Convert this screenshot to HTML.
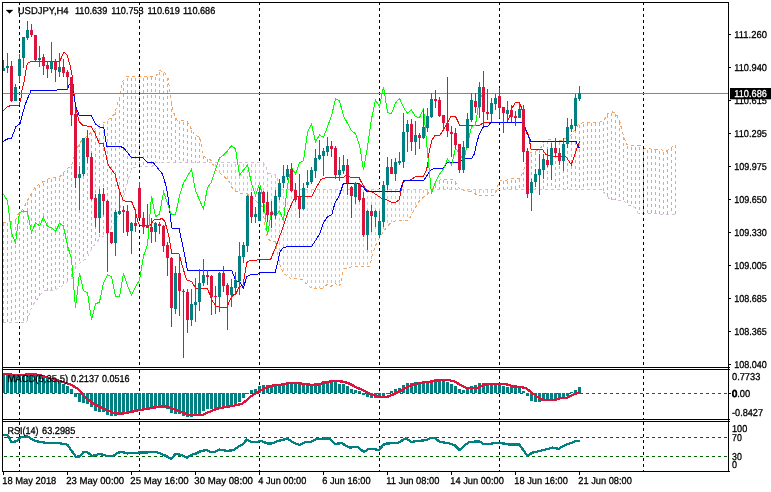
<!DOCTYPE html>
<html><head><meta charset="utf-8"><title>USDJPY H4</title>
<style>html,body{margin:0;padding:0;background:#fff;overflow:hidden}svg{display:block}</style>
</head><body>
<svg width="771" height="492" viewBox="0 0 771 492" shape-rendering="crispEdges">
<rect x="0" y="0" width="771" height="492" fill="#fff"/>
<g id="grid">
<line x1="19.5" y1="2" x2="19.5" y2="367" stroke="#000" stroke-width="1" stroke-dasharray="3 3"/>
<line x1="19.5" y1="370" x2="19.5" y2="419" stroke="#000" stroke-width="1" stroke-dasharray="3 3"/>
<line x1="19.5" y1="422" x2="19.5" y2="471" stroke="#000" stroke-width="1" stroke-dasharray="3 3"/>
<line x1="139.5" y1="2" x2="139.5" y2="367" stroke="#000" stroke-width="1" stroke-dasharray="3 3"/>
<line x1="139.5" y1="370" x2="139.5" y2="419" stroke="#000" stroke-width="1" stroke-dasharray="3 3"/>
<line x1="139.5" y1="422" x2="139.5" y2="471" stroke="#000" stroke-width="1" stroke-dasharray="3 3"/>
<line x1="259.5" y1="2" x2="259.5" y2="367" stroke="#000" stroke-width="1" stroke-dasharray="3 3"/>
<line x1="259.5" y1="370" x2="259.5" y2="419" stroke="#000" stroke-width="1" stroke-dasharray="3 3"/>
<line x1="259.5" y1="422" x2="259.5" y2="471" stroke="#000" stroke-width="1" stroke-dasharray="3 3"/>
<line x1="379.5" y1="2" x2="379.5" y2="367" stroke="#000" stroke-width="1" stroke-dasharray="3 3"/>
<line x1="379.5" y1="370" x2="379.5" y2="419" stroke="#000" stroke-width="1" stroke-dasharray="3 3"/>
<line x1="379.5" y1="422" x2="379.5" y2="471" stroke="#000" stroke-width="1" stroke-dasharray="3 3"/>
<line x1="499.5" y1="2" x2="499.5" y2="367" stroke="#000" stroke-width="1" stroke-dasharray="3 3"/>
<line x1="499.5" y1="370" x2="499.5" y2="419" stroke="#000" stroke-width="1" stroke-dasharray="3 3"/>
<line x1="499.5" y1="422" x2="499.5" y2="471" stroke="#000" stroke-width="1" stroke-dasharray="3 3"/>
<line x1="643.5" y1="2" x2="643.5" y2="367" stroke="#000" stroke-width="1" stroke-dasharray="3 3"/>
<line x1="643.5" y1="370" x2="643.5" y2="419" stroke="#000" stroke-width="1" stroke-dasharray="3 3"/>
<line x1="643.5" y1="422" x2="643.5" y2="471" stroke="#000" stroke-width="1" stroke-dasharray="3 3"/>
</g>
<g id="cloud">
<line x1="3.5" y1="223.4" x2="3.5" y2="322.2" stroke="#f4a460" stroke-width="1" stroke-dasharray="3 3"/>
<line x1="7.5" y1="222.9" x2="7.5" y2="322.2" stroke="#f4a460" stroke-width="1" stroke-dasharray="3 3"/>
<line x1="11.5" y1="222.3" x2="11.5" y2="322.2" stroke="#f4a460" stroke-width="1" stroke-dasharray="3 3"/>
<line x1="15.5" y1="220.8" x2="15.5" y2="322.2" stroke="#f4a460" stroke-width="1" stroke-dasharray="3 3"/>
<rect x="19" y="212.8" width="1" height="109.4" fill="#fff"/>
<line x1="19.5" y1="213.8" x2="19.5" y2="322.2" stroke="#f4a460" stroke-width="1" stroke-dasharray="3 3"/>
<line x1="23.5" y1="209.6" x2="23.5" y2="322.2" stroke="#f4a460" stroke-width="1" stroke-dasharray="3 3"/>
<line x1="27.5" y1="201.6" x2="27.5" y2="319.3" stroke="#f4a460" stroke-width="1" stroke-dasharray="3 3"/>
<line x1="31.5" y1="193.9" x2="31.5" y2="307.1" stroke="#f4a460" stroke-width="1" stroke-dasharray="3 3"/>
<line x1="35.5" y1="188.1" x2="35.5" y2="301.9" stroke="#f4a460" stroke-width="1" stroke-dasharray="3 3"/>
<line x1="39.5" y1="184.7" x2="39.5" y2="295.8" stroke="#f4a460" stroke-width="1" stroke-dasharray="3 3"/>
<line x1="43.5" y1="182.5" x2="43.5" y2="291.0" stroke="#f4a460" stroke-width="1" stroke-dasharray="3 3"/>
<line x1="47.5" y1="180.4" x2="47.5" y2="290.6" stroke="#f4a460" stroke-width="1" stroke-dasharray="3 3"/>
<line x1="51.5" y1="179.1" x2="51.5" y2="290.3" stroke="#f4a460" stroke-width="1" stroke-dasharray="3 3"/>
<line x1="55.5" y1="178.1" x2="55.5" y2="289.7" stroke="#f4a460" stroke-width="1" stroke-dasharray="3 3"/>
<line x1="59.5" y1="177.7" x2="59.5" y2="287.3" stroke="#f4a460" stroke-width="1" stroke-dasharray="3 3"/>
<line x1="63.5" y1="173.3" x2="63.5" y2="284.8" stroke="#f4a460" stroke-width="1" stroke-dasharray="3 3"/>
<line x1="67.5" y1="169.7" x2="67.5" y2="281.8" stroke="#f4a460" stroke-width="1" stroke-dasharray="3 3"/>
<line x1="71.5" y1="166.2" x2="71.5" y2="278.8" stroke="#f4a460" stroke-width="1" stroke-dasharray="3 3"/>
<line x1="75.5" y1="154.2" x2="75.5" y2="267.4" stroke="#f4a460" stroke-width="1" stroke-dasharray="3 3"/>
<line x1="79.5" y1="144.0" x2="79.5" y2="263.5" stroke="#f4a460" stroke-width="1" stroke-dasharray="3 3"/>
<line x1="83.5" y1="140.2" x2="83.5" y2="260.4" stroke="#f4a460" stroke-width="1" stroke-dasharray="3 3"/>
<line x1="87.5" y1="136.7" x2="87.5" y2="256.6" stroke="#f4a460" stroke-width="1" stroke-dasharray="3 3"/>
<line x1="91.5" y1="133.3" x2="91.5" y2="249.5" stroke="#f4a460" stroke-width="1" stroke-dasharray="3 3"/>
<line x1="95.5" y1="129.7" x2="95.5" y2="243.6" stroke="#f4a460" stroke-width="1" stroke-dasharray="3 3"/>
<line x1="99.5" y1="125.7" x2="99.5" y2="238.6" stroke="#f4a460" stroke-width="1" stroke-dasharray="3 3"/>
<line x1="103.5" y1="123.8" x2="103.5" y2="236.2" stroke="#f4a460" stroke-width="1" stroke-dasharray="3 3"/>
<line x1="107.5" y1="121.2" x2="107.5" y2="232.8" stroke="#f4a460" stroke-width="1" stroke-dasharray="3 3"/>
<line x1="111.5" y1="117.9" x2="111.5" y2="227.6" stroke="#f4a460" stroke-width="1" stroke-dasharray="3 3"/>
<line x1="115.5" y1="111.9" x2="115.5" y2="220.9" stroke="#f4a460" stroke-width="1" stroke-dasharray="3 3"/>
<line x1="119.5" y1="98.0" x2="119.5" y2="211.3" stroke="#f4a460" stroke-width="1" stroke-dasharray="3 3"/>
<line x1="123.5" y1="81.6" x2="123.5" y2="196.7" stroke="#f4a460" stroke-width="1" stroke-dasharray="3 3"/>
<line x1="127.5" y1="78.0" x2="127.5" y2="182.5" stroke="#f4a460" stroke-width="1" stroke-dasharray="3 3"/>
<line x1="131.5" y1="77.9" x2="131.5" y2="170.4" stroke="#f4a460" stroke-width="1" stroke-dasharray="3 3"/>
<line x1="135.5" y1="77.7" x2="135.5" y2="167.3" stroke="#f4a460" stroke-width="1" stroke-dasharray="3 3"/>
<line x1="139.5" y1="77.6" x2="139.5" y2="167.1" stroke="#f4a460" stroke-width="1" stroke-dasharray="3 3"/>
<line x1="143.5" y1="77.5" x2="143.5" y2="166.8" stroke="#f4a460" stroke-width="1" stroke-dasharray="3 3"/>
<line x1="147.5" y1="77.4" x2="147.5" y2="166.5" stroke="#f4a460" stroke-width="1" stroke-dasharray="3 3"/>
<line x1="151.5" y1="77.3" x2="151.5" y2="166.2" stroke="#f4a460" stroke-width="1" stroke-dasharray="3 3"/>
<line x1="155.5" y1="77.2" x2="155.5" y2="163.0" stroke="#f4a460" stroke-width="1" stroke-dasharray="3 3"/>
<line x1="159.5" y1="71.8" x2="159.5" y2="162.5" stroke="#f4a460" stroke-width="1" stroke-dasharray="3 3"/>
<line x1="163.5" y1="73.0" x2="163.5" y2="162.5" stroke="#f4a460" stroke-width="1" stroke-dasharray="3 3"/>
<line x1="167.5" y1="78.1" x2="167.5" y2="162.5" stroke="#f4a460" stroke-width="1" stroke-dasharray="3 3"/>
<line x1="171.5" y1="103.0" x2="171.5" y2="162.5" stroke="#f4a460" stroke-width="1" stroke-dasharray="3 3"/>
<line x1="175.5" y1="117.6" x2="175.5" y2="162.5" stroke="#f4a460" stroke-width="1" stroke-dasharray="3 3"/>
<line x1="179.5" y1="121.3" x2="179.5" y2="162.5" stroke="#f4a460" stroke-width="1" stroke-dasharray="3 3"/>
<line x1="183.5" y1="121.8" x2="183.5" y2="162.5" stroke="#f4a460" stroke-width="1" stroke-dasharray="3 3"/>
<line x1="187.5" y1="122.8" x2="187.5" y2="162.5" stroke="#f4a460" stroke-width="1" stroke-dasharray="3 3"/>
<line x1="191.5" y1="130.4" x2="191.5" y2="162.5" stroke="#f4a460" stroke-width="1" stroke-dasharray="3 3"/>
<line x1="195.5" y1="136.9" x2="195.5" y2="162.5" stroke="#f4a460" stroke-width="1" stroke-dasharray="3 3"/>
<line x1="199.5" y1="137.2" x2="199.5" y2="162.5" stroke="#f4a460" stroke-width="1" stroke-dasharray="3 3"/>
<line x1="203.5" y1="155.8" x2="203.5" y2="162.5" stroke="#f4a460" stroke-width="1" stroke-dasharray="3 3"/>
<line x1="207.5" y1="159.3" x2="207.5" y2="162.5" stroke="#f4a460" stroke-width="1" stroke-dasharray="3 3"/>
<line x1="215.5" y1="163.5" x2="215.5" y2="169.4" stroke="#d8bfd8" stroke-width="1" stroke-dasharray="3 3"/>
<line x1="219.5" y1="163.5" x2="219.5" y2="172.9" stroke="#d8bfd8" stroke-width="1" stroke-dasharray="3 3"/>
<line x1="223.5" y1="163.5" x2="223.5" y2="176.0" stroke="#d8bfd8" stroke-width="1" stroke-dasharray="3 3"/>
<line x1="227.5" y1="163.5" x2="227.5" y2="180.0" stroke="#d8bfd8" stroke-width="1" stroke-dasharray="3 3"/>
<line x1="231.5" y1="163.5" x2="231.5" y2="186.4" stroke="#d8bfd8" stroke-width="1" stroke-dasharray="3 3"/>
<line x1="235.5" y1="163.5" x2="235.5" y2="191.0" stroke="#d8bfd8" stroke-width="1" stroke-dasharray="3 3"/>
<line x1="239.5" y1="163.5" x2="239.5" y2="192.8" stroke="#d8bfd8" stroke-width="1" stroke-dasharray="3 3"/>
<line x1="243.5" y1="163.5" x2="243.5" y2="193.5" stroke="#d8bfd8" stroke-width="1" stroke-dasharray="3 3"/>
<line x1="247.5" y1="163.5" x2="247.5" y2="194.0" stroke="#d8bfd8" stroke-width="1" stroke-dasharray="3 3"/>
<line x1="251.5" y1="163.5" x2="251.5" y2="197.4" stroke="#d8bfd8" stroke-width="1" stroke-dasharray="3 3"/>
<line x1="255.5" y1="163.5" x2="255.5" y2="200.8" stroke="#d8bfd8" stroke-width="1" stroke-dasharray="3 3"/>
<rect x="259" y="162.5" width="1" height="41.7" fill="#fff"/>
<line x1="259.5" y1="163.5" x2="259.5" y2="204.2" stroke="#d8bfd8" stroke-width="1" stroke-dasharray="3 3"/>
<line x1="263.5" y1="163.8" x2="263.5" y2="214.0" stroke="#d8bfd8" stroke-width="1" stroke-dasharray="3 3"/>
<line x1="267.5" y1="172.2" x2="267.5" y2="238.3" stroke="#d8bfd8" stroke-width="1" stroke-dasharray="3 3"/>
<line x1="271.5" y1="174.7" x2="271.5" y2="241.4" stroke="#d8bfd8" stroke-width="1" stroke-dasharray="3 3"/>
<line x1="275.5" y1="175.2" x2="275.5" y2="244.0" stroke="#d8bfd8" stroke-width="1" stroke-dasharray="3 3"/>
<line x1="279.5" y1="188.4" x2="279.5" y2="262.7" stroke="#d8bfd8" stroke-width="1" stroke-dasharray="3 3"/>
<line x1="283.5" y1="190.2" x2="283.5" y2="274.2" stroke="#d8bfd8" stroke-width="1" stroke-dasharray="3 3"/>
<line x1="287.5" y1="190.2" x2="287.5" y2="275.3" stroke="#d8bfd8" stroke-width="1" stroke-dasharray="3 3"/>
<line x1="291.5" y1="190.2" x2="291.5" y2="278.7" stroke="#d8bfd8" stroke-width="1" stroke-dasharray="3 3"/>
<line x1="295.5" y1="190.2" x2="295.5" y2="278.9" stroke="#d8bfd8" stroke-width="1" stroke-dasharray="3 3"/>
<line x1="299.5" y1="190.2" x2="299.5" y2="279.0" stroke="#d8bfd8" stroke-width="1" stroke-dasharray="3 3"/>
<line x1="303.5" y1="190.2" x2="303.5" y2="279.5" stroke="#d8bfd8" stroke-width="1" stroke-dasharray="3 3"/>
<line x1="307.5" y1="190.2" x2="307.5" y2="285.8" stroke="#d8bfd8" stroke-width="1" stroke-dasharray="3 3"/>
<line x1="311.5" y1="190.2" x2="311.5" y2="287.9" stroke="#d8bfd8" stroke-width="1" stroke-dasharray="3 3"/>
<line x1="315.5" y1="190.2" x2="315.5" y2="288.0" stroke="#d8bfd8" stroke-width="1" stroke-dasharray="3 3"/>
<line x1="319.5" y1="190.2" x2="319.5" y2="288.0" stroke="#d8bfd8" stroke-width="1" stroke-dasharray="3 3"/>
<line x1="323.5" y1="190.2" x2="323.5" y2="287.8" stroke="#d8bfd8" stroke-width="1" stroke-dasharray="3 3"/>
<line x1="327.5" y1="190.2" x2="327.5" y2="284.2" stroke="#d8bfd8" stroke-width="1" stroke-dasharray="3 3"/>
<line x1="331.5" y1="190.2" x2="331.5" y2="286.1" stroke="#d8bfd8" stroke-width="1" stroke-dasharray="3 3"/>
<line x1="335.5" y1="190.2" x2="335.5" y2="283.7" stroke="#d8bfd8" stroke-width="1" stroke-dasharray="3 3"/>
<line x1="339.5" y1="190.2" x2="339.5" y2="285.9" stroke="#d8bfd8" stroke-width="1" stroke-dasharray="3 3"/>
<line x1="343.5" y1="190.2" x2="343.5" y2="269.1" stroke="#d8bfd8" stroke-width="1" stroke-dasharray="3 3"/>
<line x1="347.5" y1="190.2" x2="347.5" y2="267.8" stroke="#d8bfd8" stroke-width="1" stroke-dasharray="3 3"/>
<line x1="351.5" y1="190.2" x2="351.5" y2="266.9" stroke="#d8bfd8" stroke-width="1" stroke-dasharray="3 3"/>
<line x1="355.5" y1="190.2" x2="355.5" y2="266.3" stroke="#d8bfd8" stroke-width="1" stroke-dasharray="3 3"/>
<line x1="359.5" y1="190.2" x2="359.5" y2="266.2" stroke="#d8bfd8" stroke-width="1" stroke-dasharray="3 3"/>
<line x1="363.5" y1="190.2" x2="363.5" y2="266.1" stroke="#d8bfd8" stroke-width="1" stroke-dasharray="3 3"/>
<line x1="367.5" y1="190.2" x2="367.5" y2="266.1" stroke="#d8bfd8" stroke-width="1" stroke-dasharray="3 3"/>
<line x1="371.5" y1="190.2" x2="371.5" y2="258.5" stroke="#d8bfd8" stroke-width="1" stroke-dasharray="3 3"/>
<line x1="375.5" y1="190.2" x2="375.5" y2="245.7" stroke="#d8bfd8" stroke-width="1" stroke-dasharray="3 3"/>
<rect x="379" y="189.2" width="1" height="48.5" fill="#fff"/>
<line x1="379.5" y1="190.2" x2="379.5" y2="237.7" stroke="#d8bfd8" stroke-width="1" stroke-dasharray="3 3"/>
<line x1="383.5" y1="190.2" x2="383.5" y2="231.6" stroke="#d8bfd8" stroke-width="1" stroke-dasharray="3 3"/>
<line x1="387.5" y1="190.2" x2="387.5" y2="226.3" stroke="#d8bfd8" stroke-width="1" stroke-dasharray="3 3"/>
<line x1="391.5" y1="190.2" x2="391.5" y2="222.3" stroke="#d8bfd8" stroke-width="1" stroke-dasharray="3 3"/>
<line x1="395.5" y1="190.2" x2="395.5" y2="220.9" stroke="#d8bfd8" stroke-width="1" stroke-dasharray="3 3"/>
<line x1="399.5" y1="190.2" x2="399.5" y2="220.7" stroke="#d8bfd8" stroke-width="1" stroke-dasharray="3 3"/>
<line x1="403.5" y1="190.2" x2="403.5" y2="220.6" stroke="#d8bfd8" stroke-width="1" stroke-dasharray="3 3"/>
<line x1="407.5" y1="190.2" x2="407.5" y2="220.5" stroke="#d8bfd8" stroke-width="1" stroke-dasharray="3 3"/>
<line x1="411.5" y1="190.2" x2="411.5" y2="215.0" stroke="#d8bfd8" stroke-width="1" stroke-dasharray="3 3"/>
<line x1="415.5" y1="190.2" x2="415.5" y2="207.3" stroke="#d8bfd8" stroke-width="1" stroke-dasharray="3 3"/>
<line x1="419.5" y1="190.2" x2="419.5" y2="200.8" stroke="#d8bfd8" stroke-width="1" stroke-dasharray="3 3"/>
<line x1="423.5" y1="190.2" x2="423.5" y2="197.2" stroke="#d8bfd8" stroke-width="1" stroke-dasharray="3 3"/>
<line x1="427.5" y1="190.2" x2="427.5" y2="194.2" stroke="#d8bfd8" stroke-width="1" stroke-dasharray="3 3"/>
<line x1="435.5" y1="184.7" x2="435.5" y2="189.2" stroke="#f4a460" stroke-width="1" stroke-dasharray="3 3"/>
<line x1="439.5" y1="181.4" x2="439.5" y2="189.2" stroke="#f4a460" stroke-width="1" stroke-dasharray="3 3"/>
<line x1="443.5" y1="180.2" x2="443.5" y2="189.2" stroke="#f4a460" stroke-width="1" stroke-dasharray="3 3"/>
<line x1="447.5" y1="180.5" x2="447.5" y2="189.2" stroke="#f4a460" stroke-width="1" stroke-dasharray="3 3"/>
<line x1="451.5" y1="180.8" x2="451.5" y2="189.2" stroke="#f4a460" stroke-width="1" stroke-dasharray="3 3"/>
<line x1="455.5" y1="182.3" x2="455.5" y2="189.2" stroke="#f4a460" stroke-width="1" stroke-dasharray="3 3"/>
<line x1="467.5" y1="190.2" x2="467.5" y2="191.1" stroke="#d8bfd8" stroke-width="1" stroke-dasharray="3 3"/>
<line x1="471.5" y1="190.2" x2="471.5" y2="192.1" stroke="#d8bfd8" stroke-width="1" stroke-dasharray="3 3"/>
<line x1="475.5" y1="190.2" x2="475.5" y2="194.0" stroke="#d8bfd8" stroke-width="1" stroke-dasharray="3 3"/>
<line x1="479.5" y1="190.2" x2="479.5" y2="195.8" stroke="#d8bfd8" stroke-width="1" stroke-dasharray="3 3"/>
<line x1="483.5" y1="190.2" x2="483.5" y2="195.8" stroke="#d8bfd8" stroke-width="1" stroke-dasharray="3 3"/>
<line x1="487.5" y1="190.2" x2="487.5" y2="195.8" stroke="#d8bfd8" stroke-width="1" stroke-dasharray="3 3"/>
<line x1="491.5" y1="190.2" x2="491.5" y2="195.8" stroke="#d8bfd8" stroke-width="1" stroke-dasharray="3 3"/>
<line x1="495.5" y1="190.2" x2="495.5" y2="192.6" stroke="#d8bfd8" stroke-width="1" stroke-dasharray="3 3"/>
<line x1="499.5" y1="182.5" x2="499.5" y2="189.2" stroke="#f4a460" stroke-width="1" stroke-dasharray="3 3"/>
<line x1="503.5" y1="181.4" x2="503.5" y2="189.2" stroke="#f4a460" stroke-width="1" stroke-dasharray="3 3"/>
<line x1="507.5" y1="181.0" x2="507.5" y2="189.2" stroke="#f4a460" stroke-width="1" stroke-dasharray="3 3"/>
<line x1="511.5" y1="179.8" x2="511.5" y2="189.2" stroke="#f4a460" stroke-width="1" stroke-dasharray="3 3"/>
<line x1="515.5" y1="179.5" x2="515.5" y2="189.2" stroke="#f4a460" stroke-width="1" stroke-dasharray="3 3"/>
<line x1="519.5" y1="179.3" x2="519.5" y2="189.2" stroke="#f4a460" stroke-width="1" stroke-dasharray="3 3"/>
<line x1="523.5" y1="172.0" x2="523.5" y2="189.2" stroke="#f4a460" stroke-width="1" stroke-dasharray="3 3"/>
<line x1="527.5" y1="159.3" x2="527.5" y2="189.2" stroke="#f4a460" stroke-width="1" stroke-dasharray="3 3"/>
<line x1="531.5" y1="153.5" x2="531.5" y2="189.2" stroke="#f4a460" stroke-width="1" stroke-dasharray="3 3"/>
<line x1="535.5" y1="152.2" x2="535.5" y2="189.2" stroke="#f4a460" stroke-width="1" stroke-dasharray="3 3"/>
<line x1="539.5" y1="149.5" x2="539.5" y2="189.2" stroke="#f4a460" stroke-width="1" stroke-dasharray="3 3"/>
<line x1="543.5" y1="144.2" x2="543.5" y2="189.2" stroke="#f4a460" stroke-width="1" stroke-dasharray="3 3"/>
<line x1="547.5" y1="140.8" x2="547.5" y2="189.2" stroke="#f4a460" stroke-width="1" stroke-dasharray="3 3"/>
<line x1="551.5" y1="140.7" x2="551.5" y2="189.2" stroke="#f4a460" stroke-width="1" stroke-dasharray="3 3"/>
<line x1="555.5" y1="143.2" x2="555.5" y2="189.2" stroke="#f4a460" stroke-width="1" stroke-dasharray="3 3"/>
<line x1="559.5" y1="142.0" x2="559.5" y2="189.2" stroke="#f4a460" stroke-width="1" stroke-dasharray="3 3"/>
<line x1="563.5" y1="140.3" x2="563.5" y2="189.2" stroke="#f4a460" stroke-width="1" stroke-dasharray="3 3"/>
<line x1="567.5" y1="138.5" x2="567.5" y2="189.2" stroke="#f4a460" stroke-width="1" stroke-dasharray="3 3"/>
<line x1="571.5" y1="135.6" x2="571.5" y2="189.2" stroke="#f4a460" stroke-width="1" stroke-dasharray="3 3"/>
<line x1="575.5" y1="130.1" x2="575.5" y2="189.2" stroke="#f4a460" stroke-width="1" stroke-dasharray="3 3"/>
<line x1="579.5" y1="124.5" x2="579.5" y2="189.2" stroke="#f4a460" stroke-width="1" stroke-dasharray="3 3"/>
<line x1="583.5" y1="123.8" x2="583.5" y2="189.2" stroke="#f4a460" stroke-width="1" stroke-dasharray="3 3"/>
<line x1="587.5" y1="123.4" x2="587.5" y2="189.2" stroke="#f4a460" stroke-width="1" stroke-dasharray="3 3"/>
<line x1="591.5" y1="123.3" x2="591.5" y2="189.2" stroke="#f4a460" stroke-width="1" stroke-dasharray="3 3"/>
<line x1="595.5" y1="123.2" x2="595.5" y2="189.2" stroke="#f4a460" stroke-width="1" stroke-dasharray="3 3"/>
<line x1="599.5" y1="123.0" x2="599.5" y2="189.2" stroke="#f4a460" stroke-width="1" stroke-dasharray="3 3"/>
<line x1="603.5" y1="122.2" x2="603.5" y2="192.1" stroke="#f4a460" stroke-width="1" stroke-dasharray="3 3"/>
<line x1="607.5" y1="114.7" x2="607.5" y2="196.7" stroke="#f4a460" stroke-width="1" stroke-dasharray="3 3"/>
<line x1="611.5" y1="113.3" x2="611.5" y2="199.6" stroke="#f4a460" stroke-width="1" stroke-dasharray="3 3"/>
<line x1="615.5" y1="114.4" x2="615.5" y2="199.9" stroke="#f4a460" stroke-width="1" stroke-dasharray="3 3"/>
<line x1="619.5" y1="122.3" x2="619.5" y2="200.2" stroke="#f4a460" stroke-width="1" stroke-dasharray="3 3"/>
<line x1="623.5" y1="136.5" x2="623.5" y2="200.5" stroke="#f4a460" stroke-width="1" stroke-dasharray="3 3"/>
<line x1="627.5" y1="145.6" x2="627.5" y2="205.0" stroke="#f4a460" stroke-width="1" stroke-dasharray="3 3"/>
<line x1="631.5" y1="146.5" x2="631.5" y2="205.8" stroke="#f4a460" stroke-width="1" stroke-dasharray="3 3"/>
<line x1="635.5" y1="146.5" x2="635.5" y2="208.9" stroke="#f4a460" stroke-width="1" stroke-dasharray="3 3"/>
<line x1="639.5" y1="146.5" x2="639.5" y2="213.7" stroke="#f4a460" stroke-width="1" stroke-dasharray="3 3"/>
<line x1="643.5" y1="148.7" x2="643.5" y2="213.8" stroke="#f4a460" stroke-width="1" stroke-dasharray="3 3"/>
<line x1="647.5" y1="149.8" x2="647.5" y2="213.8" stroke="#f4a460" stroke-width="1" stroke-dasharray="3 3"/>
<line x1="651.5" y1="150.0" x2="651.5" y2="213.9" stroke="#f4a460" stroke-width="1" stroke-dasharray="3 3"/>
<line x1="655.5" y1="150.3" x2="655.5" y2="214.0" stroke="#f4a460" stroke-width="1" stroke-dasharray="3 3"/>
<line x1="659.5" y1="150.5" x2="659.5" y2="214.0" stroke="#f4a460" stroke-width="1" stroke-dasharray="3 3"/>
<line x1="663.5" y1="151.5" x2="663.5" y2="214.1" stroke="#f4a460" stroke-width="1" stroke-dasharray="3 3"/>
<line x1="667.5" y1="151.3" x2="667.5" y2="214.1" stroke="#f4a460" stroke-width="1" stroke-dasharray="3 3"/>
<line x1="671.5" y1="148.3" x2="671.5" y2="214.2" stroke="#f4a460" stroke-width="1" stroke-dasharray="3 3"/>
<line x1="675.5" y1="144.7" x2="675.5" y2="214.2" stroke="#f4a460" stroke-width="1" stroke-dasharray="3 3"/>
</g>
<polyline points="3.0,222.5 15.0,220.8 18.3,214.0 23.3,209.0 30.8,194.0 35.0,187.5 40.0,183.3 48.3,179.0 55.8,177.0 60.0,176.7 64.0,171.7 71.7,165.0 74.2,156.7 79.2,143.3 81.7,140.8 95.0,129.2 100.0,124.2 104.2,122.5 109.7,118.7 114.7,113.7 119.5,97.0 122.2,82.5 126.0,77.0 156.0,76.2 159.7,70.5 164.7,72.5 168.5,78.7 169.7,92.5 173.5,112.5 177.2,120.0 187.2,121.2 191.0,128.5 195.0,135.8 200.0,136.3 201.7,150.0 204.2,156.7 210.8,160.0 215.8,170.0 223.3,175.8 229.2,181.7 233.3,190.0 240.0,193.0 247.5,194.0 262.5,206.7 265.0,225.0 267.5,238.3 270.8,241.3 275.0,241.7 277.5,253.3 280.0,265.0 283.7,274.7 287.5,275.3 290.8,278.7 303.3,279.2 307.5,285.8 311.7,288.0 323.3,288.0 327.5,284.2 330.8,286.7 335.0,283.3 339.2,286.7 341.7,280.0 343.3,269.2 348.3,267.5 355.0,266.3 370.0,266.0 372.0,256.0 375.0,246.7 380.0,236.7 385.8,228.3 390.8,222.5 395.8,220.8 408.3,220.5 412.5,213.3 415.8,206.7 420.0,200.0 424.2,196.7 427.5,194.2 431.7,189.2 435.8,183.3 440.0,180.0 443.3,179.2 455.0,180.0 457.5,186.7 460.0,188.5 463.3,190.0 473.3,192.5 478.3,195.8 493.3,195.8 496.7,190.8 498.3,183.3 500.0,180.8 507.5,180.0 511.7,178.7 520.0,178.3 523.3,171.7 525.8,163.3 529.2,153.3 536.7,150.8 541.7,146.7 544.3,141.7 547.7,139.7 551.8,139.7 556.0,142.5 562.0,140.0 569.3,136.7 571.2,135.0 575.0,130.0 578.7,123.7 585.0,122.5 600.0,122.0 603.7,121.2 607.5,113.7 612.5,112.0 616.2,113.7 620.0,122.5 622.5,132.5 626.2,143.7 628.7,145.5 640.0,145.5 645.0,148.7 660.0,149.5 666.2,151.2 670.0,148.7 675.5,143.7" fill="none" stroke="#f4a460" stroke-width="1" stroke-dasharray="3 3"/>
<polyline points="3.0,322.2 26.5,322.2 29.0,315.0 31.7,306.5 35.8,301.5 40.0,295.0 43.3,291.0 55.0,290.0 62.5,285.5 72.5,278.0 75.8,266.3 86.7,258.0 93.3,246.3 100.0,238.0 105.0,235.5 110.0,230.0 115.0,222.0 119.0,213.3 121.5,203.3 124.0,195.0 128.2,180.0 130.7,171.7 133.2,167.5 152.2,166.2 156.0,162.5 263.3,162.5 265.8,166.7 268.3,173.3 275.8,174.2 277.5,180.0 280.0,189.2 601.0,189.2 606.0,195.0 610.0,199.5 623.7,200.5 627.5,205.0 633.7,206.2 638.7,213.7 671.2,214.2 675.5,214.2" fill="none" stroke="#d8bfd8" stroke-width="1" stroke-dasharray="3 3"/>
<g id="lines" fill="none" stroke-width="1">
<polyline points="3.0,110.8 7.5,106.7 11.7,105.3 19.0,105.0 20.8,100.0 21.7,91.7 23.3,84.5 24.2,80.8 25.4,73.3 26.7,65.8 27.9,63.3 29.6,62.1 31.3,61.5 59.6,61.5 61.0,58.5 62.5,55.0 64.0,52.6 65.8,53.7 67.5,55.8 69.0,61.7 70.8,68.3 72.5,78.3 73.3,86.7 75.0,101.7 76.7,111.7 79.2,121.7 83.3,125.8 90.8,126.2 95.0,133.3 99.2,143.3 103.3,143.7 106.7,158.3 108.3,165.0 115.0,174.2 119.2,190.0 123.3,200.8 131.7,201.7 135.0,210.0 138.3,223.3 140.8,225.8 150.0,225.8 154.0,219.7 162.5,218.8 165.0,221.7 169.0,236.7 171.7,253.3 179.0,253.8 182.5,266.7 186.7,280.0 191.7,281.7 195.8,288.3 207.5,288.3 211.7,300.0 215.8,305.8 220.0,307.5 226.7,307.5 230.8,298.3 233.3,295.0 235.8,294.2 239.2,286.7 243.0,285.0 245.0,273.0 246.7,262.5 250.0,260.5 270.8,259.0 275.8,246.7 280.8,233.3 287.5,213.3 295.0,196.7 311.7,196.3 315.8,188.3 320.8,179.7 325.8,177.5 344.0,177.0 346.7,175.0 350.0,177.0 359.0,177.5 363.3,185.8 367.5,190.8 371.7,191.7 376.7,195.0 381.7,198.3 387.5,200.3 391.7,202.5 395.0,202.5 399.2,200.0 400.8,191.7 403.3,181.3 410.0,180.3 415.0,177.0 423.3,176.3 425.8,171.7 427.5,165.8 429.2,151.7 431.7,140.5 435.0,135.5 440.0,135.2 443.3,130.0 446.7,124.2 450.0,117.9 451.2,116.3 455.4,116.3 457.5,120.5 459.6,125.0 480.0,125.0 483.3,122.6 491.0,122.5 506.8,122.2 509.3,117.5 511.8,108.3 515.2,103.0 519.3,102.7 521.8,108.3 524.3,125.0 526.8,133.3 528.5,135.0 531.0,149.0 542.7,149.7 546.0,154.7 550.0,155.3 554.3,156.3 566.0,156.7 571.3,164.7 576.0,150.8 580.0,140.8" stroke="#ff0000"/>
<polyline points="3.0,141.7 6.7,139.2 11.7,138.0 15.8,126.7 20.0,123.7 25.0,105.0 30.8,90.8 56.7,90.5 57.5,89.7 67.5,89.3 69.0,85.0 70.0,84.0 71.5,86.0 73.3,91.7 75.8,106.7 79.2,115.3 91.3,115.3 95.8,124.2 100.0,127.2 103.7,127.5 106.7,146.3 120.0,146.3 124.0,148.3 131.0,157.0 142.2,157.5 147.2,162.0 153.5,163.0 162.2,173.7 165.8,185.0 168.3,198.3 170.0,213.3 171.7,228.0 179.0,228.3 183.3,248.3 187.5,270.3 231.7,270.3 235.8,280.8 240.0,282.0 243.3,288.3 246.7,276.7 250.0,275.0 256.7,274.7 260.0,273.0 275.0,272.7 277.5,263.3 280.0,251.7 283.3,247.5 288.3,246.7 311.7,246.3 315.8,240.0 320.0,233.3 323.3,223.3 327.5,216.7 331.7,214.7 335.0,203.0 339.2,195.8 343.3,183.7 359.0,183.7 363.3,187.5 366.7,191.3 400.0,191.3 403.7,180.8 423.3,180.5 425.0,178.7 430.0,170.8 434.2,168.3 443.3,168.0 447.5,162.3 460.0,162.0 464.2,158.5 471.7,158.2 474.2,154.2 476.7,143.3 479.2,134.2 480.2,132.5 483.5,126.7 487.7,126.3 491.0,122.5 521.8,122.5 526.0,130.0 531.0,141.5 576.0,141.5 578.5,147.5 579.5,148.0" stroke="#0000ff"/>
</g>
<polyline points="3.5,194.0 7.5,201.0 11.5,233.0 15.5,243.0 19.5,212.5 23.5,211.0 27.5,212.0 31.5,232.5 35.5,223.0 39.5,225.8 43.5,217.5 47.5,226.7 51.5,227.5 55.5,231.7 59.5,223.3 63.5,226.0 67.5,245.8 71.5,258.3 75.5,308.0 79.5,273.0 83.5,290.8 87.5,292.5 91.5,319.7 95.5,304.0 99.5,302.0 103.5,283.0 107.5,275.0 111.5,276.7 115.5,296.7 119.5,297.0 123.5,273.0 127.5,285.8 131.5,295.0 135.5,287.0 139.5,280.0 143.5,255.8 147.5,245.0 151.5,195.8 155.5,216.7 159.5,214.0 163.5,192.0 167.5,203.3 171.5,215.0 175.5,214.7 179.5,195.8 183.5,183.0 187.5,176.3 191.5,169.0 195.5,190.8 199.5,200.0 203.5,209.0 207.5,187.5 211.5,182.0 215.5,169.7 219.5,158.0 223.5,155.0 227.5,150.8 231.5,145.8 235.5,148.7 239.5,175.0 243.5,170.0 247.5,165.0 251.5,183.3 255.5,195.8 259.5,183.3 263.5,199.5 267.5,235.0 271.5,210.8 275.5,216.3 279.5,210.8 283.5,220.8 287.5,185.0 291.5,167.0 295.5,174.0 299.5,162.5 303.5,160.8 307.5,132.0 311.5,124.0 315.5,141.7 319.5,135.0 323.5,137.5 327.5,126.7 331.5,115.8 335.5,99.0 339.5,100.8 343.5,115.8 347.5,123.3 351.5,130.8 355.5,133.7 359.5,145.0 363.5,170.0 367.5,146.7 371.5,119.0 375.5,100.0 379.5,106.7 383.5,86.7 387.5,112.5 391.5,113.7 395.5,103.0 399.5,98.3 403.5,107.5 407.5,113.3 411.5,110.0 415.5,116.7 419.5,117.5 423.5,109.0 427.5,152.5 431.5,193.7 435.5,181.7 439.5,174.0 443.5,169.0 447.5,159.0 451.5,165.0 455.5,148.3 459.5,153.3 463.5,160.8 467.5,144.0 471.5,126.7 475.5,125.0 479.5,98.3 483.5,93.3" stroke="#00ff00" fill="none" stroke-width="1"/>
<rect x="3" y="93" width="726" height="1" fill="#778899"/>
<g id="candles">
<rect x="3" y="60" width="1" height="11" fill="#008080"/>
<rect x="3" y="68" width="2" height="3" fill="#008080"/>
<rect x="7" y="53" width="1" height="20" fill="#008080"/>
<rect x="6" y="66" width="3" height="2" fill="#008080"/>
<rect x="11" y="61" width="1" height="41" fill="#dc143c"/>
<rect x="10" y="66" width="3" height="35" fill="#dc143c"/>
<rect x="15" y="84" width="1" height="17" fill="#008080"/>
<rect x="14" y="87" width="3" height="14" fill="#008080"/>
<rect x="19" y="54" width="1" height="28" fill="#008080"/>
<rect x="18" y="59" width="3" height="17" fill="#008080"/>
<rect x="23" y="37" width="1" height="31" fill="#008080"/>
<rect x="22" y="37" width="3" height="21" fill="#008080"/>
<rect x="27" y="21" width="1" height="19" fill="#008080"/>
<rect x="26" y="30" width="3" height="8" fill="#008080"/>
<rect x="31" y="24" width="1" height="13" fill="#dc143c"/>
<rect x="30" y="30" width="3" height="5" fill="#dc143c"/>
<rect x="35" y="35" width="1" height="26" fill="#dc143c"/>
<rect x="34" y="35" width="3" height="25" fill="#dc143c"/>
<rect x="39" y="46" width="1" height="21" fill="#008080"/>
<rect x="38" y="58" width="3" height="2" fill="#008080"/>
<rect x="43" y="54" width="1" height="21" fill="#dc143c"/>
<rect x="42" y="57" width="3" height="9" fill="#dc143c"/>
<rect x="47" y="61" width="1" height="17" fill="#dc143c"/>
<rect x="46" y="65" width="3" height="4" fill="#dc143c"/>
<rect x="51" y="42" width="1" height="31" fill="#008080"/>
<rect x="50" y="62" width="3" height="7" fill="#008080"/>
<rect x="55" y="59" width="1" height="23" fill="#dc143c"/>
<rect x="54" y="62" width="3" height="8" fill="#dc143c"/>
<rect x="59" y="53" width="1" height="24" fill="#008080"/>
<rect x="58" y="67" width="3" height="5" fill="#008080"/>
<rect x="63" y="59" width="1" height="18" fill="#dc143c"/>
<rect x="62" y="67" width="3" height="6" fill="#dc143c"/>
<rect x="67" y="70" width="1" height="20" fill="#dc143c"/>
<rect x="66" y="72" width="3" height="5" fill="#dc143c"/>
<rect x="71" y="77" width="1" height="49" fill="#dc143c"/>
<rect x="70" y="77" width="3" height="38" fill="#dc143c"/>
<rect x="75" y="108" width="1" height="80" fill="#dc143c"/>
<rect x="74" y="114" width="3" height="64" fill="#dc143c"/>
<rect x="79" y="166" width="1" height="44" fill="#008080"/>
<rect x="78" y="174" width="3" height="4" fill="#008080"/>
<rect x="83" y="138" width="1" height="38" fill="#008080"/>
<rect x="82" y="138" width="3" height="36" fill="#008080"/>
<rect x="87" y="130" width="1" height="33" fill="#dc143c"/>
<rect x="86" y="138" width="3" height="19" fill="#dc143c"/>
<rect x="91" y="153" width="1" height="47" fill="#dc143c"/>
<rect x="90" y="157" width="3" height="42" fill="#dc143c"/>
<rect x="95" y="194" width="1" height="33" fill="#dc143c"/>
<rect x="94" y="198" width="3" height="20" fill="#dc143c"/>
<rect x="99" y="189" width="1" height="44" fill="#008080"/>
<rect x="98" y="194" width="3" height="24" fill="#008080"/>
<rect x="103" y="188" width="1" height="27" fill="#dc143c"/>
<rect x="102" y="194" width="3" height="7" fill="#dc143c"/>
<rect x="107" y="200" width="1" height="72" fill="#dc143c"/>
<rect x="106" y="201" width="3" height="32" fill="#dc143c"/>
<rect x="111" y="232" width="1" height="12" fill="#dc143c"/>
<rect x="110" y="232" width="3" height="11" fill="#dc143c"/>
<rect x="115" y="210" width="1" height="46" fill="#008080"/>
<rect x="114" y="212" width="3" height="31" fill="#008080"/>
<rect x="119" y="190" width="1" height="25" fill="#008080"/>
<rect x="118" y="211" width="3" height="3" fill="#008080"/>
<rect x="123" y="206" width="1" height="27" fill="#dc143c"/>
<rect x="122" y="210" width="3" height="2" fill="#dc143c"/>
<rect x="127" y="205" width="1" height="31" fill="#dc143c"/>
<rect x="126" y="211" width="3" height="21" fill="#dc143c"/>
<rect x="131" y="222" width="1" height="32" fill="#008080"/>
<rect x="130" y="223" width="3" height="8" fill="#008080"/>
<rect x="135" y="209" width="1" height="23" fill="#dc143c"/>
<rect x="134" y="223" width="3" height="3" fill="#dc143c"/>
<rect x="139" y="182" width="1" height="36" fill="#dc143c"/>
<rect x="138" y="188" width="3" height="30" fill="#dc143c"/>
<rect x="143" y="212" width="1" height="22" fill="#dc143c"/>
<rect x="142" y="218" width="3" height="9" fill="#dc143c"/>
<rect x="147" y="204" width="1" height="24" fill="#dc143c"/>
<rect x="146" y="225" width="3" height="3" fill="#dc143c"/>
<rect x="151" y="218" width="1" height="25" fill="#dc143c"/>
<rect x="150" y="227" width="3" height="5" fill="#dc143c"/>
<rect x="155" y="222" width="1" height="20" fill="#008080"/>
<rect x="154" y="223" width="3" height="9" fill="#008080"/>
<rect x="159" y="222" width="1" height="12" fill="#dc143c"/>
<rect x="158" y="224" width="3" height="2" fill="#dc143c"/>
<rect x="163" y="225" width="1" height="27" fill="#dc143c"/>
<rect x="162" y="226" width="3" height="20" fill="#dc143c"/>
<rect x="167" y="242" width="1" height="34" fill="#dc143c"/>
<rect x="166" y="245" width="3" height="13" fill="#dc143c"/>
<rect x="171" y="257" width="1" height="70" fill="#dc143c"/>
<rect x="170" y="258" width="3" height="50" fill="#dc143c"/>
<rect x="175" y="266" width="1" height="48" fill="#008080"/>
<rect x="174" y="273" width="3" height="36" fill="#008080"/>
<rect x="179" y="255" width="1" height="61" fill="#dc143c"/>
<rect x="178" y="273" width="3" height="18" fill="#dc143c"/>
<rect x="183" y="289" width="1" height="69" fill="#dc143c"/>
<rect x="182" y="291" width="3" height="1" fill="#dc143c"/>
<rect x="187" y="289" width="1" height="44" fill="#dc143c"/>
<rect x="186" y="292" width="3" height="28" fill="#dc143c"/>
<rect x="191" y="289" width="1" height="37" fill="#008080"/>
<rect x="190" y="304" width="3" height="16" fill="#008080"/>
<rect x="195" y="278" width="1" height="44" fill="#008080"/>
<rect x="194" y="302" width="3" height="3" fill="#008080"/>
<rect x="199" y="269" width="1" height="42" fill="#008080"/>
<rect x="198" y="283" width="3" height="19" fill="#008080"/>
<rect x="203" y="259" width="1" height="27" fill="#008080"/>
<rect x="202" y="275" width="3" height="8" fill="#008080"/>
<rect x="207" y="270" width="1" height="15" fill="#dc143c"/>
<rect x="206" y="275" width="3" height="2" fill="#dc143c"/>
<rect x="211" y="275" width="1" height="40" fill="#dc143c"/>
<rect x="210" y="276" width="3" height="21" fill="#dc143c"/>
<rect x="215" y="286" width="1" height="28" fill="#dc143c"/>
<rect x="214" y="296" width="3" height="1" fill="#dc143c"/>
<rect x="219" y="272" width="1" height="40" fill="#008080"/>
<rect x="218" y="273" width="3" height="24" fill="#008080"/>
<rect x="223" y="266" width="1" height="26" fill="#dc143c"/>
<rect x="222" y="273" width="3" height="13" fill="#dc143c"/>
<rect x="227" y="283" width="1" height="47" fill="#dc143c"/>
<rect x="226" y="285" width="3" height="10" fill="#dc143c"/>
<rect x="231" y="279" width="1" height="28" fill="#008080"/>
<rect x="230" y="287" width="3" height="8" fill="#008080"/>
<rect x="235" y="272" width="1" height="22" fill="#008080"/>
<rect x="234" y="280" width="3" height="8" fill="#008080"/>
<rect x="239" y="242" width="1" height="53" fill="#008080"/>
<rect x="238" y="256" width="3" height="25" fill="#008080"/>
<rect x="243" y="242" width="1" height="21" fill="#008080"/>
<rect x="242" y="245" width="3" height="12" fill="#008080"/>
<rect x="247" y="195" width="1" height="57" fill="#008080"/>
<rect x="246" y="196" width="3" height="50" fill="#008080"/>
<rect x="251" y="192" width="1" height="31" fill="#dc143c"/>
<rect x="250" y="196" width="3" height="21" fill="#dc143c"/>
<rect x="255" y="207" width="1" height="16" fill="#008080"/>
<rect x="254" y="214" width="3" height="3" fill="#008080"/>
<rect x="259" y="187" width="1" height="34" fill="#008080"/>
<rect x="258" y="192" width="3" height="29" fill="#008080"/>
<rect x="263" y="191" width="1" height="21" fill="#dc143c"/>
<rect x="262" y="192" width="3" height="11" fill="#dc143c"/>
<rect x="267" y="192" width="1" height="30" fill="#dc143c"/>
<rect x="266" y="202" width="3" height="13" fill="#dc143c"/>
<rect x="271" y="201" width="1" height="27" fill="#dc143c"/>
<rect x="270" y="212" width="3" height="3" fill="#dc143c"/>
<rect x="275" y="190" width="1" height="29" fill="#008080"/>
<rect x="274" y="196" width="3" height="19" fill="#008080"/>
<rect x="279" y="179" width="1" height="21" fill="#008080"/>
<rect x="278" y="183" width="3" height="14" fill="#008080"/>
<rect x="283" y="165" width="1" height="23" fill="#008080"/>
<rect x="282" y="176" width="3" height="7" fill="#008080"/>
<rect x="287" y="165" width="1" height="15" fill="#008080"/>
<rect x="286" y="169" width="3" height="8" fill="#008080"/>
<rect x="291" y="163" width="1" height="29" fill="#dc143c"/>
<rect x="290" y="169" width="3" height="22" fill="#dc143c"/>
<rect x="295" y="183" width="1" height="19" fill="#dc143c"/>
<rect x="294" y="190" width="3" height="10" fill="#dc143c"/>
<rect x="299" y="174" width="1" height="44" fill="#dc143c"/>
<rect x="298" y="197" width="3" height="12" fill="#dc143c"/>
<rect x="303" y="183" width="1" height="27" fill="#008080"/>
<rect x="302" y="188" width="3" height="21" fill="#008080"/>
<rect x="307" y="170" width="1" height="18" fill="#008080"/>
<rect x="306" y="182" width="3" height="3" fill="#008080"/>
<rect x="311" y="167" width="1" height="17" fill="#008080"/>
<rect x="310" y="170" width="3" height="12" fill="#008080"/>
<rect x="315" y="149" width="1" height="29" fill="#008080"/>
<rect x="314" y="158" width="3" height="13" fill="#008080"/>
<rect x="319" y="140" width="1" height="20" fill="#008080"/>
<rect x="318" y="155" width="3" height="4" fill="#008080"/>
<rect x="323" y="148" width="1" height="28" fill="#008080"/>
<rect x="322" y="151" width="3" height="5" fill="#008080"/>
<rect x="327" y="137" width="1" height="19" fill="#008080"/>
<rect x="326" y="146" width="3" height="6" fill="#008080"/>
<rect x="331" y="141" width="1" height="16" fill="#dc143c"/>
<rect x="330" y="146" width="3" height="3" fill="#dc143c"/>
<rect x="335" y="146" width="1" height="33" fill="#dc143c"/>
<rect x="334" y="148" width="3" height="27" fill="#dc143c"/>
<rect x="339" y="157" width="1" height="24" fill="#008080"/>
<rect x="338" y="170" width="3" height="5" fill="#008080"/>
<rect x="343" y="155" width="1" height="19" fill="#008080"/>
<rect x="342" y="165" width="3" height="6" fill="#008080"/>
<rect x="347" y="159" width="1" height="36" fill="#dc143c"/>
<rect x="346" y="165" width="3" height="18" fill="#dc143c"/>
<rect x="351" y="186" width="1" height="32" fill="#dc143c"/>
<rect x="350" y="187" width="3" height="9" fill="#dc143c"/>
<rect x="355" y="182" width="1" height="22" fill="#008080"/>
<rect x="354" y="183" width="3" height="14" fill="#008080"/>
<rect x="359" y="183" width="1" height="19" fill="#dc143c"/>
<rect x="358" y="184" width="3" height="16" fill="#dc143c"/>
<rect x="363" y="192" width="1" height="45" fill="#dc143c"/>
<rect x="362" y="198" width="3" height="37" fill="#dc143c"/>
<rect x="367" y="210" width="1" height="40" fill="#008080"/>
<rect x="366" y="211" width="3" height="24" fill="#008080"/>
<rect x="371" y="205" width="1" height="27" fill="#dc143c"/>
<rect x="370" y="211" width="3" height="5" fill="#dc143c"/>
<rect x="375" y="210" width="1" height="17" fill="#008080"/>
<rect x="374" y="211" width="3" height="6" fill="#008080"/>
<rect x="379" y="211" width="1" height="27" fill="#008080"/>
<rect x="378" y="221" width="3" height="14" fill="#008080"/>
<rect x="383" y="181" width="1" height="46" fill="#008080"/>
<rect x="382" y="185" width="3" height="37" fill="#008080"/>
<rect x="387" y="157" width="1" height="33" fill="#008080"/>
<rect x="386" y="167" width="3" height="18" fill="#008080"/>
<rect x="391" y="159" width="1" height="15" fill="#dc143c"/>
<rect x="390" y="167" width="3" height="7" fill="#dc143c"/>
<rect x="395" y="158" width="1" height="23" fill="#008080"/>
<rect x="394" y="162" width="3" height="12" fill="#008080"/>
<rect x="399" y="152" width="1" height="13" fill="#008080"/>
<rect x="398" y="161" width="3" height="2" fill="#008080"/>
<rect x="403" y="113" width="1" height="55" fill="#008080"/>
<rect x="402" y="132" width="3" height="30" fill="#008080"/>
<rect x="407" y="120" width="1" height="32" fill="#008080"/>
<rect x="406" y="124" width="3" height="8" fill="#008080"/>
<rect x="411" y="119" width="1" height="32" fill="#dc143c"/>
<rect x="410" y="124" width="3" height="18" fill="#dc143c"/>
<rect x="415" y="121" width="1" height="34" fill="#008080"/>
<rect x="414" y="135" width="3" height="7" fill="#008080"/>
<rect x="419" y="133" width="1" height="16" fill="#dc143c"/>
<rect x="418" y="135" width="3" height="3" fill="#dc143c"/>
<rect x="423" y="109" width="1" height="30" fill="#008080"/>
<rect x="422" y="127" width="3" height="11" fill="#008080"/>
<rect x="427" y="108" width="1" height="24" fill="#008080"/>
<rect x="426" y="116" width="3" height="12" fill="#008080"/>
<rect x="431" y="93" width="1" height="25" fill="#008080"/>
<rect x="430" y="99" width="3" height="18" fill="#008080"/>
<rect x="435" y="90" width="1" height="18" fill="#dc143c"/>
<rect x="434" y="99" width="3" height="2" fill="#dc143c"/>
<rect x="439" y="97" width="1" height="20" fill="#dc143c"/>
<rect x="438" y="100" width="3" height="16" fill="#dc143c"/>
<rect x="443" y="115" width="1" height="14" fill="#dc143c"/>
<rect x="442" y="115" width="3" height="8" fill="#dc143c"/>
<rect x="447" y="77" width="1" height="60" fill="#dc143c"/>
<rect x="446" y="123" width="3" height="8" fill="#dc143c"/>
<rect x="451" y="126" width="1" height="31" fill="#dc143c"/>
<rect x="450" y="132" width="3" height="2" fill="#dc143c"/>
<rect x="455" y="128" width="1" height="21" fill="#dc143c"/>
<rect x="454" y="133" width="3" height="12" fill="#dc143c"/>
<rect x="459" y="144" width="1" height="29" fill="#dc143c"/>
<rect x="458" y="144" width="3" height="26" fill="#dc143c"/>
<rect x="463" y="141" width="1" height="32" fill="#008080"/>
<rect x="462" y="147" width="3" height="23" fill="#008080"/>
<rect x="467" y="113" width="1" height="35" fill="#008080"/>
<rect x="466" y="119" width="3" height="29" fill="#008080"/>
<rect x="471" y="93" width="1" height="29" fill="#008080"/>
<rect x="470" y="100" width="3" height="20" fill="#008080"/>
<rect x="475" y="93" width="1" height="20" fill="#dc143c"/>
<rect x="474" y="101" width="3" height="6" fill="#dc143c"/>
<rect x="479" y="82" width="1" height="36" fill="#008080"/>
<rect x="478" y="87" width="3" height="20" fill="#008080"/>
<rect x="483" y="71" width="1" height="55" fill="#dc143c"/>
<rect x="482" y="87" width="3" height="25" fill="#dc143c"/>
<rect x="487" y="89" width="1" height="31" fill="#dc143c"/>
<rect x="486" y="112" width="3" height="2" fill="#dc143c"/>
<rect x="491" y="98" width="1" height="24" fill="#008080"/>
<rect x="490" y="103" width="3" height="11" fill="#008080"/>
<rect x="495" y="94" width="1" height="16" fill="#008080"/>
<rect x="494" y="98" width="3" height="6" fill="#008080"/>
<rect x="499" y="88" width="1" height="30" fill="#dc143c"/>
<rect x="498" y="96" width="3" height="12" fill="#dc143c"/>
<rect x="503" y="107" width="1" height="26" fill="#dc143c"/>
<rect x="502" y="107" width="3" height="6" fill="#dc143c"/>
<rect x="507" y="101" width="1" height="19" fill="#008080"/>
<rect x="506" y="110" width="3" height="4" fill="#008080"/>
<rect x="511" y="105" width="1" height="17" fill="#dc143c"/>
<rect x="510" y="110" width="3" height="7" fill="#dc143c"/>
<rect x="515" y="111" width="1" height="15" fill="#dc143c"/>
<rect x="514" y="116" width="3" height="2" fill="#dc143c"/>
<rect x="519" y="104" width="1" height="14" fill="#008080"/>
<rect x="518" y="109" width="3" height="9" fill="#008080"/>
<rect x="523" y="105" width="1" height="57" fill="#dc143c"/>
<rect x="522" y="109" width="3" height="43" fill="#dc143c"/>
<rect x="527" y="148" width="1" height="50" fill="#dc143c"/>
<rect x="526" y="151" width="3" height="43" fill="#dc143c"/>
<rect x="531" y="179" width="1" height="32" fill="#008080"/>
<rect x="530" y="182" width="3" height="11" fill="#008080"/>
<rect x="535" y="169" width="1" height="18" fill="#008080"/>
<rect x="534" y="174" width="3" height="8" fill="#008080"/>
<rect x="539" y="154" width="1" height="41" fill="#008080"/>
<rect x="538" y="169" width="3" height="6" fill="#008080"/>
<rect x="543" y="154" width="1" height="25" fill="#008080"/>
<rect x="542" y="159" width="3" height="11" fill="#008080"/>
<rect x="547" y="149" width="1" height="18" fill="#dc143c"/>
<rect x="546" y="160" width="3" height="5" fill="#dc143c"/>
<rect x="551" y="143" width="1" height="37" fill="#008080"/>
<rect x="550" y="148" width="3" height="17" fill="#008080"/>
<rect x="555" y="138" width="1" height="18" fill="#dc143c"/>
<rect x="554" y="148" width="3" height="5" fill="#dc143c"/>
<rect x="559" y="148" width="1" height="17" fill="#dc143c"/>
<rect x="558" y="153" width="3" height="8" fill="#dc143c"/>
<rect x="563" y="138" width="1" height="33" fill="#008080"/>
<rect x="562" y="144" width="3" height="17" fill="#008080"/>
<rect x="567" y="118" width="1" height="30" fill="#008080"/>
<rect x="566" y="127" width="3" height="17" fill="#008080"/>
<rect x="571" y="119" width="1" height="13" fill="#008080"/>
<rect x="570" y="125" width="3" height="4" fill="#008080"/>
<rect x="575" y="94" width="1" height="37" fill="#008080"/>
<rect x="574" y="98" width="3" height="28" fill="#008080"/>
<rect x="579" y="86" width="1" height="15" fill="#008080"/>
<rect x="578" y="93" width="3" height="6" fill="#008080"/>
</g>
<g id="macd">
<line x1="4" y1="393.5" x2="728" y2="393.5" stroke="#444" stroke-width="1" stroke-dasharray="3 3"/>
<rect x="3" y="373" width="2" height="20" fill="#008080"/>
<rect x="6" y="374" width="3" height="19" fill="#008080"/>
<rect x="10" y="374" width="3" height="19" fill="#008080"/>
<rect x="14" y="374" width="3" height="19" fill="#008080"/>
<rect x="18" y="374" width="3" height="19" fill="#008080"/>
<rect x="22" y="374" width="3" height="19" fill="#008080"/>
<rect x="26" y="373" width="3" height="20" fill="#008080"/>
<rect x="30" y="373" width="3" height="20" fill="#008080"/>
<rect x="34" y="374" width="3" height="19" fill="#008080"/>
<rect x="38" y="375" width="3" height="18" fill="#008080"/>
<rect x="42" y="376" width="3" height="17" fill="#008080"/>
<rect x="46" y="377" width="3" height="16" fill="#008080"/>
<rect x="50" y="378" width="3" height="15" fill="#008080"/>
<rect x="54" y="380" width="3" height="13" fill="#008080"/>
<rect x="58" y="382" width="3" height="11" fill="#008080"/>
<rect x="62" y="384" width="3" height="9" fill="#008080"/>
<rect x="66" y="386" width="3" height="7" fill="#008080"/>
<rect x="70" y="389" width="3" height="4" fill="#008080"/>
<rect x="74" y="393" width="3" height="4" fill="#008080"/>
<rect x="78" y="393" width="3" height="9" fill="#008080"/>
<rect x="82" y="393" width="3" height="10" fill="#008080"/>
<rect x="86" y="393" width="3" height="11" fill="#008080"/>
<rect x="90" y="393" width="3" height="14" fill="#008080"/>
<rect x="94" y="393" width="3" height="18" fill="#008080"/>
<rect x="98" y="393" width="3" height="19" fill="#008080"/>
<rect x="102" y="393" width="3" height="19" fill="#008080"/>
<rect x="106" y="393" width="3" height="22" fill="#008080"/>
<rect x="110" y="393" width="3" height="23" fill="#008080"/>
<rect x="114" y="393" width="3" height="23" fill="#008080"/>
<rect x="118" y="393" width="3" height="21" fill="#008080"/>
<rect x="122" y="393" width="3" height="20" fill="#008080"/>
<rect x="126" y="393" width="3" height="19" fill="#008080"/>
<rect x="130" y="393" width="3" height="18" fill="#008080"/>
<rect x="134" y="393" width="3" height="17" fill="#008080"/>
<rect x="138" y="393" width="3" height="16" fill="#008080"/>
<rect x="142" y="393" width="3" height="16" fill="#008080"/>
<rect x="146" y="393" width="3" height="16" fill="#008080"/>
<rect x="150" y="393" width="3" height="15" fill="#008080"/>
<rect x="154" y="393" width="3" height="15" fill="#008080"/>
<rect x="158" y="393" width="3" height="14" fill="#008080"/>
<rect x="162" y="393" width="3" height="15" fill="#008080"/>
<rect x="166" y="393" width="3" height="16" fill="#008080"/>
<rect x="170" y="393" width="3" height="20" fill="#008080"/>
<rect x="174" y="393" width="3" height="21" fill="#008080"/>
<rect x="178" y="393" width="3" height="21" fill="#008080"/>
<rect x="182" y="393" width="3" height="23" fill="#008080"/>
<rect x="186" y="393" width="3" height="24" fill="#008080"/>
<rect x="190" y="393" width="3" height="24" fill="#008080"/>
<rect x="194" y="393" width="3" height="23" fill="#008080"/>
<rect x="198" y="393" width="3" height="21" fill="#008080"/>
<rect x="202" y="393" width="3" height="18" fill="#008080"/>
<rect x="206" y="393" width="3" height="16" fill="#008080"/>
<rect x="210" y="393" width="3" height="16" fill="#008080"/>
<rect x="214" y="393" width="3" height="15" fill="#008080"/>
<rect x="218" y="393" width="3" height="14" fill="#008080"/>
<rect x="222" y="393" width="3" height="13" fill="#008080"/>
<rect x="226" y="393" width="3" height="13" fill="#008080"/>
<rect x="230" y="393" width="3" height="12" fill="#008080"/>
<rect x="234" y="393" width="3" height="11" fill="#008080"/>
<rect x="238" y="393" width="3" height="9" fill="#008080"/>
<rect x="242" y="393" width="3" height="5" fill="#008080"/>
<rect x="246" y="393" width="3" height="1" fill="#008080"/>
<rect x="250" y="390" width="3" height="3" fill="#008080"/>
<rect x="254" y="389" width="3" height="4" fill="#008080"/>
<rect x="258" y="386" width="3" height="7" fill="#008080"/>
<rect x="262" y="385" width="3" height="8" fill="#008080"/>
<rect x="266" y="385" width="3" height="8" fill="#008080"/>
<rect x="270" y="386" width="3" height="7" fill="#008080"/>
<rect x="274" y="385" width="3" height="8" fill="#008080"/>
<rect x="278" y="384" width="3" height="9" fill="#008080"/>
<rect x="282" y="383" width="3" height="10" fill="#008080"/>
<rect x="286" y="382" width="3" height="11" fill="#008080"/>
<rect x="290" y="382" width="3" height="11" fill="#008080"/>
<rect x="294" y="383" width="3" height="10" fill="#008080"/>
<rect x="298" y="383" width="3" height="10" fill="#008080"/>
<rect x="302" y="385" width="3" height="8" fill="#008080"/>
<rect x="306" y="385" width="3" height="8" fill="#008080"/>
<rect x="310" y="384" width="3" height="9" fill="#008080"/>
<rect x="314" y="383" width="3" height="10" fill="#008080"/>
<rect x="318" y="383" width="3" height="10" fill="#008080"/>
<rect x="322" y="381" width="3" height="12" fill="#008080"/>
<rect x="326" y="381" width="3" height="12" fill="#008080"/>
<rect x="330" y="381" width="3" height="12" fill="#008080"/>
<rect x="334" y="380" width="3" height="13" fill="#008080"/>
<rect x="338" y="384" width="3" height="9" fill="#008080"/>
<rect x="342" y="384" width="3" height="9" fill="#008080"/>
<rect x="346" y="386" width="3" height="7" fill="#008080"/>
<rect x="350" y="389" width="3" height="4" fill="#008080"/>
<rect x="354" y="390" width="3" height="3" fill="#008080"/>
<rect x="358" y="391" width="3" height="2" fill="#008080"/>
<rect x="362" y="393" width="3" height="2" fill="#008080"/>
<rect x="366" y="393" width="3" height="4" fill="#008080"/>
<rect x="370" y="393" width="3" height="5" fill="#008080"/>
<rect x="374" y="393" width="3" height="5" fill="#008080"/>
<rect x="378" y="393" width="3" height="4" fill="#008080"/>
<rect x="382" y="393" width="3" height="3" fill="#008080"/>
<rect x="386" y="393" width="3" height="1" fill="#008080"/>
<rect x="390" y="391" width="3" height="2" fill="#008080"/>
<rect x="394" y="389" width="3" height="4" fill="#008080"/>
<rect x="398" y="388" width="3" height="5" fill="#008080"/>
<rect x="402" y="385" width="3" height="8" fill="#008080"/>
<rect x="406" y="383" width="3" height="10" fill="#008080"/>
<rect x="410" y="383" width="3" height="10" fill="#008080"/>
<rect x="414" y="382" width="3" height="11" fill="#008080"/>
<rect x="418" y="383" width="3" height="10" fill="#008080"/>
<rect x="422" y="383" width="3" height="10" fill="#008080"/>
<rect x="426" y="381" width="3" height="12" fill="#008080"/>
<rect x="430" y="380" width="3" height="13" fill="#008080"/>
<rect x="434" y="379" width="3" height="14" fill="#008080"/>
<rect x="438" y="379" width="3" height="14" fill="#008080"/>
<rect x="442" y="380" width="3" height="13" fill="#008080"/>
<rect x="446" y="382" width="3" height="11" fill="#008080"/>
<rect x="450" y="384" width="3" height="9" fill="#008080"/>
<rect x="454" y="386" width="3" height="7" fill="#008080"/>
<rect x="458" y="389" width="3" height="4" fill="#008080"/>
<rect x="462" y="390" width="3" height="3" fill="#008080"/>
<rect x="466" y="388" width="3" height="5" fill="#008080"/>
<rect x="470" y="386" width="3" height="7" fill="#008080"/>
<rect x="474" y="385" width="3" height="8" fill="#008080"/>
<rect x="478" y="383" width="3" height="10" fill="#008080"/>
<rect x="482" y="383" width="3" height="10" fill="#008080"/>
<rect x="486" y="384" width="3" height="9" fill="#008080"/>
<rect x="490" y="384" width="3" height="9" fill="#008080"/>
<rect x="494" y="384" width="3" height="9" fill="#008080"/>
<rect x="498" y="385" width="3" height="8" fill="#008080"/>
<rect x="502" y="386" width="3" height="7" fill="#008080"/>
<rect x="506" y="387" width="3" height="6" fill="#008080"/>
<rect x="510" y="387" width="3" height="6" fill="#008080"/>
<rect x="514" y="388" width="3" height="5" fill="#008080"/>
<rect x="518" y="388" width="3" height="5" fill="#008080"/>
<rect x="522" y="391" width="3" height="2" fill="#008080"/>
<rect x="526" y="393" width="3" height="3" fill="#008080"/>
<rect x="530" y="393" width="3" height="8" fill="#008080"/>
<rect x="534" y="393" width="3" height="9" fill="#008080"/>
<rect x="538" y="393" width="3" height="9" fill="#008080"/>
<rect x="542" y="393" width="3" height="7" fill="#008080"/>
<rect x="546" y="393" width="3" height="7" fill="#008080"/>
<rect x="550" y="393" width="3" height="6" fill="#008080"/>
<rect x="554" y="393" width="3" height="6" fill="#008080"/>
<rect x="558" y="393" width="3" height="6" fill="#008080"/>
<rect x="562" y="393" width="3" height="5" fill="#008080"/>
<rect x="566" y="393" width="3" height="3" fill="#008080"/>
<rect x="570" y="392" width="3" height="1" fill="#008080"/>
<rect x="574" y="390" width="3" height="3" fill="#008080"/>
<rect x="578" y="387" width="3" height="6" fill="#008080"/>
<polyline points="3.3,374.0 10.0,374.5 20.0,375.3 30.0,374.0 40.0,375.0 50.0,378.3 60.0,381.0 70.0,384.4 76.4,387.8 81.4,392.7 86.4,398.6 93.0,403.5 99.7,406.9 106.3,409.9 113.0,412.7 119.6,413.8 124.0,413.4 139.0,410.2 152.6,407.8 161.4,406.5 167.0,406.5 173.8,409.0 181.3,412.1 188.8,414.9 202.5,414.9 208.7,412.1 216.2,409.0 220.0,408.1 231.2,406.2 242.4,403.8 251.1,396.3 258.6,391.3 267.3,386.9 273.5,385.4 282.3,384.5 289.7,383.0 298.5,383.0 307.2,384.5 316.0,385.1 323.5,383.0 333.4,380.7 343.4,381.7 348.4,383.2 357.1,387.6 365.8,391.7 372.0,394.7 379.5,396.9 387.0,396.9 393.2,394.4 400.7,390.7 408.2,386.7 412.0,385.1 419.5,383.0 428.2,382.0 436.9,380.7 441.9,379.7 446.9,379.7 454.3,381.3 461.8,385.7 466.8,388.0 478.0,388.0 483.0,385.1 489.2,383.8 499.2,383.8 507.5,384.5 512.5,386.3 519.9,386.9 526.2,388.2 532.4,393.2 539.9,398.8 543.6,400.0 554.8,400.0 559.8,398.2 567.2,397.9 572.2,395.0 579.7,392.5" fill="none" stroke="#dc143c" stroke-width="2.3" stroke-linejoin="round"/>
</g>
<g id="rsi">
<line x1="4" y1="437.5" x2="728" y2="437.5" stroke="#006400" stroke-width="1" stroke-dasharray="3 3"/>
<line x1="4" y1="456.5" x2="728" y2="456.5" stroke="#006400" stroke-width="1" stroke-dasharray="3 3"/>
<polyline points="3.0,435.2 7.5,435.2 11.2,441.9 16.2,441.4 21.2,436.9 27.4,436.4 34.9,440.9 44.8,442.7 59.8,443.2 67.2,444.6 75.9,456.8 79.7,456.4 83.4,452.1 87.2,452.1 92.1,455.9 99.6,453.9 107.1,455.9 113.3,455.9 118.3,452.6 122.0,451.9 127.0,453.4 139.4,452.6 156.9,452.1 164.3,455.1 171.3,458.8 175.5,453.9 181.8,455.1 187.0,457.6 192.5,454.4 196.2,453.4 201.2,450.9 206.1,450.1 211.1,452.1 214.9,451.9 219.8,449.6 227.3,450.9 233.5,450.1 239.8,445.9 243.5,443.9 246.7,439.4 251.0,441.9 257.2,441.9 260.9,440.9 267.2,443.4 272.1,443.4 278.4,440.9 284.6,439.4 287.1,438.4 292.1,441.9 299.5,445.1 305.7,441.9 310.7,441.9 317.0,438.9 329.4,438.4 334.9,443.9 341.9,443.2 349.3,447.6 357.3,446.9 363.8,451.9 368.0,449.4 373.7,448.9 378.7,450.1 383.7,444.6 387.4,443.4 397.4,443.2 406.1,438.2 411.0,441.9 418.5,440.9 426.0,440.2 431.0,437.7 434.7,437.7 439.7,441.9 448.4,443.2 454.6,445.1 459.6,450.1 464.6,445.1 469.6,441.9 479.5,441.4 483.3,443.9 489.5,443.9 495.7,442.9 503.2,443.4 509.4,444.6 519.4,444.6 527.3,455.9 532.5,452.6 540.0,450.9 546.1,449.4 552.4,447.6 558.6,448.9 564.8,445.1 572.3,442.7 576.0,440.9 579.8,440.7" fill="none" stroke="#008080" stroke-width="2.3" stroke-linejoin="round"/>
</g>
<g id="grid2">
<line x1="139.5" y1="74" x2="139.5" y2="167" stroke="#000" stroke-width="1" stroke-dasharray="3 3"/>
<line x1="499.5" y1="176" x2="499.5" y2="189" stroke="#000" stroke-width="1" stroke-dasharray="3 3"/>
<line x1="643.5" y1="146" x2="643.5" y2="214" stroke="#000" stroke-width="1" stroke-dasharray="3 3"/>
</g>
<g id="frame" fill="#000">
<rect x="2" y="2" width="1" height="470"/>
<rect x="728" y="2" width="1" height="470"/>
<rect x="2" y="2" width="727" height="1"/>
<rect x="2" y="367" width="728" height="1"/>
<rect x="2" y="369" width="728" height="1"/>
<rect x="2" y="419" width="728" height="1"/>
<rect x="2" y="421" width="728" height="1"/>
<rect x="2" y="471" width="728" height="1"/>
<rect x="3" y="368" width="725" height="1" fill="#fff"/>
<rect x="3" y="420" width="725" height="1" fill="#fff"/>
<rect x="729" y="34" width="2" height="1"/>
<rect x="729" y="67" width="2" height="1"/>
<rect x="729" y="100" width="2" height="1"/>
<rect x="729" y="133" width="2" height="1"/>
<rect x="729" y="166" width="2" height="1"/>
<rect x="729" y="199" width="2" height="1"/>
<rect x="729" y="232" width="2" height="1"/>
<rect x="729" y="265" width="2" height="1"/>
<rect x="729" y="298" width="2" height="1"/>
<rect x="729" y="331" width="2" height="1"/>
<rect x="729" y="364" width="2" height="1"/>
<rect x="729" y="393" width="2" height="1"/>
<rect x="3" y="472" width="1" height="3"/>
<rect x="67" y="472" width="1" height="3"/>
<rect x="131" y="472" width="1" height="3"/>
<rect x="195" y="472" width="1" height="3"/>
<rect x="259" y="472" width="1" height="3"/>
<rect x="323" y="472" width="1" height="3"/>
<rect x="387" y="472" width="1" height="3"/>
<rect x="451" y="472" width="1" height="3"/>
<rect x="515" y="472" width="1" height="3"/>
<rect x="579" y="472" width="1" height="3"/>
</g>
<g id="text" font-family="Liberation Sans, sans-serif" font-size="10" fill="#000" stroke="#000" stroke-width="0.3" shape-rendering="auto" text-rendering="geometricPrecision">
<polygon points="6,10 13,10 9.5,13.5" fill="#000" shape-rendering="auto"/>
<text x="17.80" y="14.00" textLength="50.8" lengthAdjust="spacingAndGlyphs">USDJPY,H4</text>
<text x="74.90" y="14.00" textLength="32.4" lengthAdjust="spacingAndGlyphs">110.639</text>
<text x="111.30" y="14.00" textLength="32.4" lengthAdjust="spacingAndGlyphs">110.753</text>
<text x="147.40" y="14.00" textLength="32.4" lengthAdjust="spacingAndGlyphs">110.619</text>
<text x="182.90" y="14.00" textLength="32.4" lengthAdjust="spacingAndGlyphs">110.686</text>
<text x="734.30" y="38.00" textLength="32.6" lengthAdjust="spacingAndGlyphs">111.260</text>
<text x="734.30" y="71.00" textLength="32.6" lengthAdjust="spacingAndGlyphs">110.940</text>
<text x="734.30" y="104.00" textLength="32.6" lengthAdjust="spacingAndGlyphs">110.615</text>
<text x="734.30" y="137.00" textLength="32.6" lengthAdjust="spacingAndGlyphs">110.295</text>
<text x="734.30" y="170.00" textLength="32.6" lengthAdjust="spacingAndGlyphs">109.975</text>
<text x="734.30" y="203.00" textLength="32.6" lengthAdjust="spacingAndGlyphs">109.650</text>
<text x="734.30" y="236.00" textLength="32.6" lengthAdjust="spacingAndGlyphs">109.330</text>
<text x="734.30" y="269.00" textLength="32.6" lengthAdjust="spacingAndGlyphs">109.005</text>
<text x="734.30" y="302.00" textLength="32.6" lengthAdjust="spacingAndGlyphs">108.685</text>
<text x="734.30" y="335.00" textLength="32.6" lengthAdjust="spacingAndGlyphs">108.365</text>
<text x="734.30" y="368.00" textLength="32.6" lengthAdjust="spacingAndGlyphs">108.040</text>
<rect x="730" y="88" width="41" height="11" fill="#000" shape-rendering="crispEdges"/>
<text x="734.30" y="97.00" textLength="32.6" lengthAdjust="spacingAndGlyphs" fill="#fff" stroke="#fff">110.686</text>
<text x="7.40" y="382.00" textLength="60.7" lengthAdjust="spacingAndGlyphs">MACD(5,35,5)</text>
<text x="71.00" y="382.00" textLength="28.2" lengthAdjust="spacingAndGlyphs">0.2137</text>
<text x="102.00" y="382.00" textLength="27.6" lengthAdjust="spacingAndGlyphs">0.0516</text>
<text x="732.00" y="380.00" textLength="28.3" lengthAdjust="spacingAndGlyphs">0.7733</text>
<text x="732.00" y="397.00" textLength="18.2" lengthAdjust="spacingAndGlyphs"><tspan stroke-width="1">0</tspan>.00</text>
<text x="732.00" y="416.00" textLength="31" lengthAdjust="spacingAndGlyphs">-0.8427</text>
<text x="7.50" y="434.00" textLength="31" lengthAdjust="spacingAndGlyphs">RSI(14)</text>
<text x="42.00" y="434.00" textLength="33.4" lengthAdjust="spacingAndGlyphs">63.2985</text>
<text x="732.00" y="432.00" textLength="15.2" lengthAdjust="spacingAndGlyphs">100</text>
<text x="732.00" y="441.00" textLength="9.8" lengthAdjust="spacingAndGlyphs">70</text>
<text x="732.00" y="460.00" textLength="9.8" lengthAdjust="spacingAndGlyphs">30</text>
<text x="732.00" y="468.00" textLength="5.0" lengthAdjust="spacingAndGlyphs">0</text>
<text x="2.30" y="484.00" textLength="54.0" lengthAdjust="spacingAndGlyphs">18 May 2018</text>
<text x="66.30" y="484.00" textLength="57.9" lengthAdjust="spacingAndGlyphs">23 May 00:00</text>
<text x="130.30" y="484.00" textLength="58.3" lengthAdjust="spacingAndGlyphs">25 May 16:00</text>
<text x="194.30" y="484.00" textLength="58.6" lengthAdjust="spacingAndGlyphs">30 May 08:00</text>
<text x="258.30" y="484.00" textLength="48.0" lengthAdjust="spacingAndGlyphs">4 Jun 00:00</text>
<text x="322.30" y="484.00" textLength="48.3" lengthAdjust="spacingAndGlyphs">6 Jun 16:00</text>
<text x="386.30" y="484.00" textLength="53.1" lengthAdjust="spacingAndGlyphs">11 Jun 08:00</text>
<text x="450.30" y="484.00" textLength="53.5" lengthAdjust="spacingAndGlyphs">14 Jun 00:00</text>
<text x="514.30" y="484.00" textLength="53.5" lengthAdjust="spacingAndGlyphs">18 Jun 16:00</text>
<text x="578.30" y="484.00" textLength="53.5" lengthAdjust="spacingAndGlyphs">21 Jun 08:00</text>
</g>
</svg>
</body></html>
